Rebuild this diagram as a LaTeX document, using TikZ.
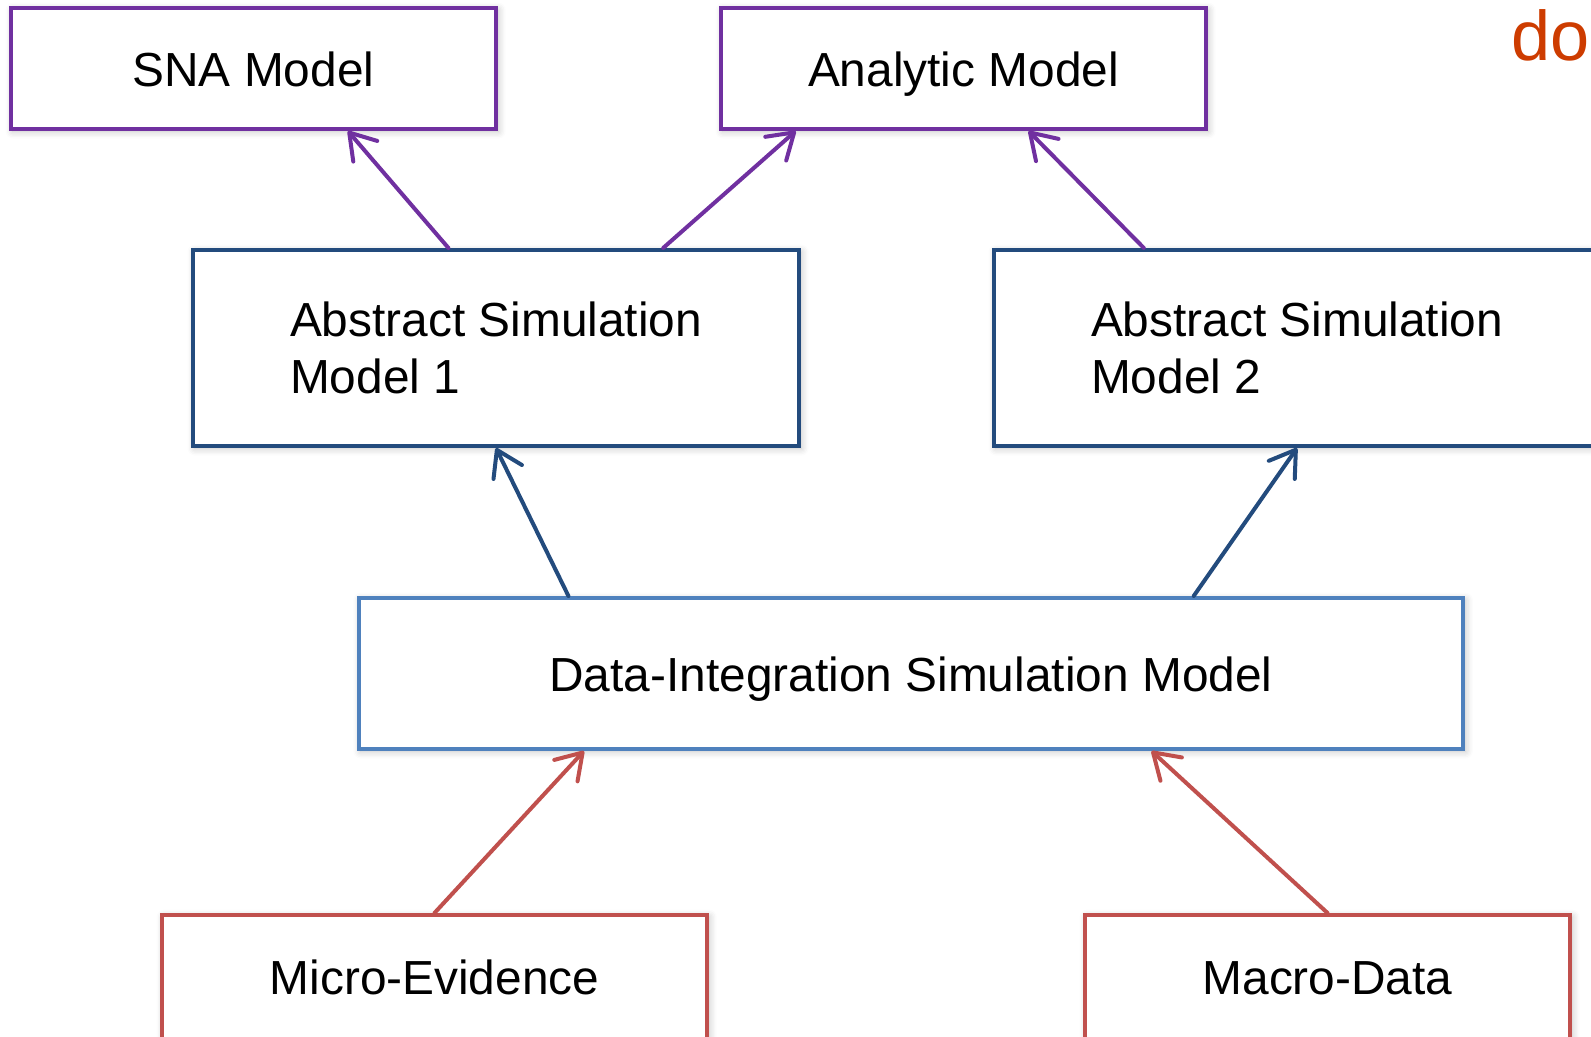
\documentclass[tikz,border=0pt]{standalone}
\usepackage{fontspec}
\setmainfont{Liberation Sans}
\usetikzlibrary{arrows.meta,calc,shadows.blur}

\definecolor{modelpurple}{RGB}{112,48,160}
\definecolor{simblue}{RGB}{35,75,125}
\definecolor{datablue}{RGB}{79,129,189}
\definecolor{evidred}{RGB}{192,80,77}
\definecolor{dotext}{RGB}{205,60,0}

\begin{document}
\begin{tikzpicture}[x=0.01cm,y=-0.01cm,
    box/.style={draw=#1, line width=1.14pt, fill=white, inner sep=0pt,
      font=\fontsize{13.6}{16}\selectfont,
      blur shadow={shadow xshift=0.6pt, shadow yshift=-0.6pt, shadow blur steps=6, shadow opacity=25}},
    oneline/.style={text height=10.1pt, text depth=0pt},
    arr/.style={draw=#1, line width=1.14pt, line cap=round,
      -{Straight Barb[length=7pt,width=9pt,round]}}]

        \clip (0,0) rectangle (1591,1036);

        % Top row: the two target models
        \node[box=modelpurple, oneline, minimum width=4.85cm, minimum height=1.21cm] (sna) at (253.5,68.5) {SNA Model};
        \node[box=modelpurple, oneline, minimum width=4.85cm, minimum height=1.21cm] (analytic) at (963.5,68.5) {Analytic Model};

        % Middle row: abstract simulation models
        \node[box=simblue, minimum width=6.06cm, minimum height=1.96cm, align=left] (asmA) at (496,348) {Abstract Simulation\\Model 1};
        \node[box=simblue, minimum width=6.06cm, minimum height=1.96cm, align=left] (asmB) at (1297,348) {Abstract Simulation\\Model 2};

        % The data-integration model
        \node[box=datablue, oneline, minimum width=11.04cm, minimum height=1.51cm] (dism) at (911,673.5) {Data-Integration Simulation Model};

        % Bottom row: the data sources
        \node[box=evidred, oneline, minimum width=5.45cm, minimum height=1.24cm] (micro) at (434.5,977) {Micro-Evidence};
        \node[box=evidred, oneline, minimum width=4.85cm, minimum height=1.24cm] (macro) at (1327.5,977) {Macro-Data};

        % Cut-off word in the corner
        \node[anchor=base west, inner sep=0pt, text=dotext, font=\fontsize{20}{24}\selectfont] (cornerword) at (1511,60) {do};

        % Arrows up to the top row
        \draw[arr=modelpurple] ($(asmA.north west)!0.422!(asmA.north east)$) -- ($(sna.south west)!0.693!(sna.south east)$);
        \draw[arr=modelpurple] ($(asmA.north west)!0.774!(asmA.north east)$) -- ($(analytic.south west)!0.157!(analytic.south east)$);
        \draw[arr=modelpurple] ($(asmB.north west)!0.249!(asmB.north east)$) -- ($(analytic.south west)!0.633!(analytic.south east)$);

        % Arrows up to the abstract models
        \draw[arr=simblue] ($(dism.north west)!0.191!(dism.north east)$) -- ($(asmA.south west)!0.5!(asmA.south east)$);
        \draw[arr=simblue] ($(dism.north west)!0.755!(dism.north east)$) -- ($(asmB.south west)!0.5!(asmB.south east)$);

        % Arrows from the data sources
        \draw[arr=evidred] (micro.north) -- ($(dism.south west)!0.205!(dism.south east)$);
        \draw[arr=evidred] (macro.north) -- ($(dism.south west)!0.717!(dism.south east)$);

    \end{tikzpicture}
\end{document}
